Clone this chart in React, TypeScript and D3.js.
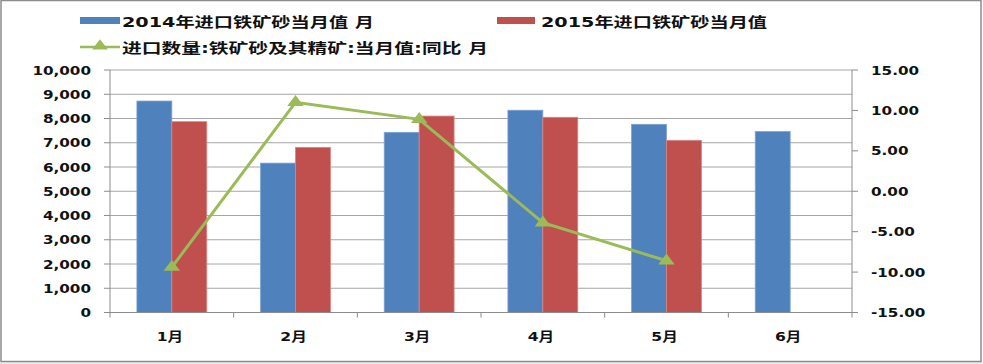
import React from "react";
import * as d3 from "d3";

const months = ["1月", "2月", "3月", "4月", "5月", "6月"];
const imports2014 = [8720, 6160, 7430, 8340, 7760, 7460];
const imports2015 = [7870, 6810, 8100, 8050, 7100];
const yoyChange = [-9.4, 11.0, 8.9, -3.9, -8.6];
const leftTicks = d3.range(0, 10001, 1000);
const rightTicks = d3.range(-15, 15.01, 5);

const legendLabels = [
  "2014年进口铁矿砂当月值 月",
  "2015年进口铁矿砂当月值",
  "进口数量:铁矿砂及其精矿:当月值:同比 月",
];

const width = 983;
const height = 364;
const plot = { left: 110, right: 852, top: 70, bottom: 312.5 };

const blue = "#4F81BD";
const red = "#C0504D";
const green = "#9BBB59";
const grid = "#A6A6A6";
const numFont = "'DejaVu Sans', 'Noto Sans CJK SC', sans-serif";

const locale = d3.formatLocale({
  decimal: ".",
  thousands: ",",
  grouping: [3],
  currency: ["", ""],
  minus: "-",
});

const App: React.FC = () => {
  const x = d3.scaleBand<string>().domain(months).range([plot.left, plot.right]);
  const xs = d3
    .scaleBand<string>()
    .domain(["2014", "2015"])
    .range([0, x.bandwidth()])
    .paddingOuter(0.77);
  const yL = d3.scaleLinear().domain([0, 10000]).range([plot.bottom, plot.top]);
  const yR = d3.scaleLinear().domain([-15, 15]).range([plot.bottom, plot.top]);

  const cx = (m: string) => (x(m) as number) + x.bandwidth() / 2;
  const line = d3
    .line<number>()
    .x((_, i) => cx(months[i]))
    .y((d) => yR(d));
  const tri = d3.symbol(d3.symbolTriangle, 75)() as string;
  const fmtL = locale.format(",");
  const fmtR = locale.format(".2f");
  const bounds = months.map((m) => x(m) as number).concat([plot.right]);

  return (
    <svg
      width={width}
      height={height}
      style={{ position: "absolute", left: 0, top: 0, background: "#fff" }}
    >
      <rect x={0} y={362} width={width} height={2} fill="#ececec" />
      <rect x={1} y={0.5} width={980} height={361} fill="none" stroke="#8c8c8c" strokeWidth={1.5} />

      {/* legend */}
      <rect x={80} y={17} width={40} height={7} fill={blue} />
      <text x={122} y={26.5} fontSize={14} fontWeight="bold" fontFamily={numFont}
        textLength={252} lengthAdjust="spacingAndGlyphs" fill="#111">{legendLabels[0]}</text>
      <rect x={497} y={17} width={38} height={7} fill={red} />
      <text x={541} y={26.5} fontSize={14} fontWeight="bold" fontFamily={numFont}
        textLength={226} lengthAdjust="spacingAndGlyphs" fill="#111">{legendLabels[1]}</text>
      <line x1={80} x2={120} y1={47} y2={47} stroke={green} strokeWidth={2.5} />
      <path d={tri} transform="translate(100,46) scale(1.2,0.9)" fill={green} />
      <text x={122} y={52.5} fontSize={14} fontWeight="bold" fontFamily={numFont}
        textLength={366} lengthAdjust="spacingAndGlyphs" fill="#111">{legendLabels[2]}</text>

      {/* gridlines */}
      {leftTicks.slice(1).map((t) => (
        <line key={t} x1={plot.left} x2={plot.right} y1={yL(t)} y2={yL(t)} stroke={grid} strokeWidth={1} />
      ))}

      {/* left axis */}
      <line x1={plot.left} x2={plot.left} y1={plot.top} y2={plot.bottom} stroke="#8c8c8c" />
      {leftTicks.map((t) => (
        <g key={t}>
          <line x1={plot.left - 6} x2={plot.left} y1={yL(t)} y2={yL(t)} stroke="#8c8c8c" />
          <text
            transform={`translate(91,${yL(t) + 4.5}) scale(1.17,1)`}
            textAnchor="end"
            fontSize={13}
            fontWeight="bold"
            fontFamily={numFont}
            fill="#111"
          >
            {fmtL(t)}
          </text>
        </g>
      ))}

      {/* right axis */}
      <line x1={plot.right} x2={plot.right} y1={plot.top} y2={plot.bottom} stroke="#8c8c8c" />
      {rightTicks.map((t) => (
        <g key={t}>
          <line x1={plot.right} x2={plot.right + 6} y1={yR(t)} y2={yR(t)} stroke="#8c8c8c" />
          <text
            transform={`translate(${t < 0 ? 871 : 871},${yR(t) + 4.5}) scale(1.17,1)`}
            fontSize={13}
            fontWeight="bold"
            fontFamily={numFont}
            fill="#111"
          >
            {fmtR(t)}
          </text>
        </g>
      ))}

      {/* bars */}
      {imports2014.map((v, i) => (
        <rect key={"a" + i} x={(x(months[i]) as number) + (xs("2014") as number)} y={yL(v)}
          width={xs.bandwidth()} height={plot.bottom - yL(v)} fill={blue}
          stroke="#7fa2d0" strokeWidth={0.8} />
      ))}
      {imports2015.map((v, i) => (
        <rect key={"b" + i} x={(x(months[i]) as number) + (xs("2015") as number)} y={yL(v)}
          width={xs.bandwidth()} height={plot.bottom - yL(v)} fill={red}
          stroke="#d98583" strokeWidth={0.8} />
      ))}

      {/* bottom axis */}
      <line x1={plot.left} x2={plot.right} y1={plot.bottom} y2={plot.bottom} stroke="#8c8c8c" />
      {bounds.map((b, i) => (
        <line key={i} x1={b} x2={b} y1={plot.bottom} y2={plot.bottom + 5} stroke="#8c8c8c" />
      ))}
      {months.map((m) => (
        <text
          key={m}
          transform={`translate(${cx(m) - 2},${341}) scale(1.2,1)`}
          textAnchor="middle"
          fontSize={13}
          fontWeight="bold"
          fontFamily={numFont}
          fill="#111"
        >
          {m}
        </text>
      ))}

      {/* yoy line */}
      <path d={line(yoyChange) as string} fill="none" stroke={green} strokeWidth={3} />
      {yoyChange.map((v, i) => (
        <path key={i} d={tri} transform={`translate(${cx(months[i])},${yR(v)}) scale(1.25,0.95)`} fill={green} />
      ))}
    </svg>
  );
};

export default App;
